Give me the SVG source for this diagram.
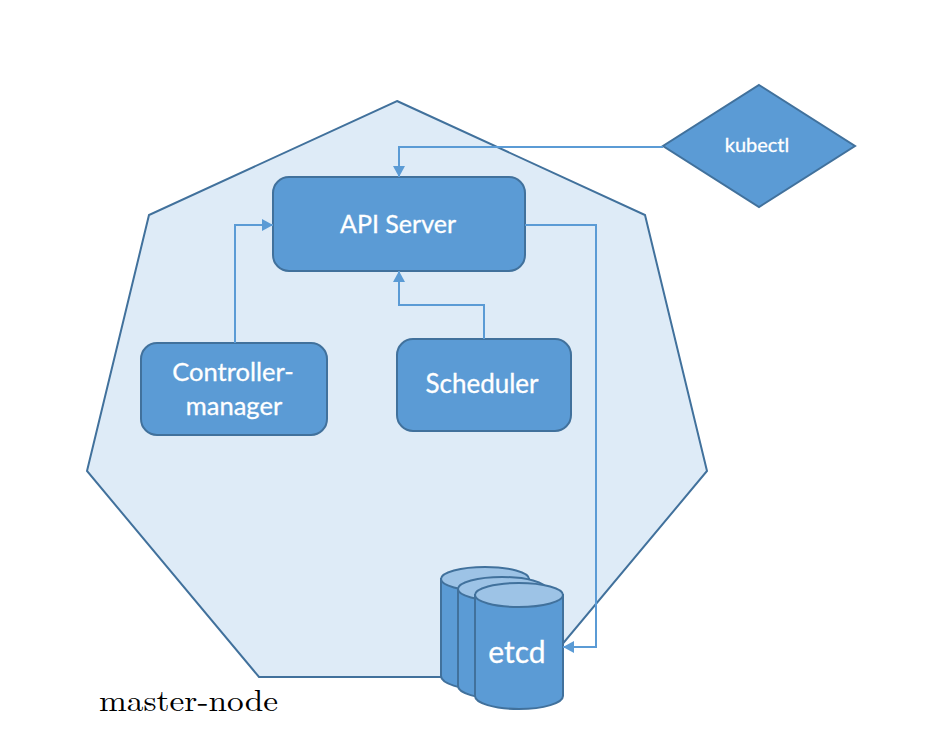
<svg xmlns="http://www.w3.org/2000/svg" width="928" height="756" viewBox="0 0 928 756">
<style>
.s{fill:#5b9bd5;stroke:#41719c;stroke-width:2}
.t{fill:#fff;stroke:#fff;stroke-width:.3;font-family:Lato,"Open Sans",sans-serif;text-anchor:middle}
.top{fill:#9dc3e6;stroke:#41719c;stroke-width:2}
.c{fill:none;stroke:#5b9bd5;stroke-width:2}
</style>
<defs><marker id="a" markerUnits="userSpaceOnUse" markerWidth="12" markerHeight="13" refX="11" refY="6.5" orient="auto"><path d="M0 0.5L11 6.5L0 12.5Z" fill="#5b9bd5"/></marker></defs>
<rect width="928" height="756" fill="#fff"/>
<g id="master-node">
<polygon points="397,101 645,215 707,471 535,677 259,677 87,471 149,215" fill="#deebf7" stroke="#41719c" stroke-width="2"/>
<text x="99" y="711" font-family="'Latin Modern Roman','Liberation Serif',serif" font-size="30" fill="#000" textLength="179" lengthAdjust="spacingAndGlyphs">master-node</text>
</g>
<g id="etcd">
<path class="s" d="M441 579V676C441 683 460 690 485 690C510 690 529 683 529 676V579Z"/>
<ellipse class="top" cx="485" cy="579" rx="44" ry="12"/>
<path class="s" d="M458 589V686C458 693 477 699 502 699C527 699 546 693 546 686V589Z"/>
<ellipse class="top" cx="502" cy="589" rx="44" ry="12"/>
<path class="s" d="M475 595V696C475 703 494 709 519 709C544 709 563 703 563 696V595Z"/>
<ellipse class="top" cx="519" cy="595" rx="44" ry="12"/>
<text class="t" x="517" y="663" font-size="30">etcd</text>
</g>
<g id="api-server">
<rect class="s" x="273" y="177" width="252" height="94" rx="16"/>
<text class="t" x="398" y="233" font-size="25">API Server</text>
</g>
<g id="controller-manager">
<rect class="s" x="141" y="343" width="186" height="92" rx="16"/>
<text class="t" x="233" y="381" font-size="25.5">Controller-</text>
<text class="t" x="234" y="415" font-size="25.5">manager</text>
</g>
<g id="scheduler">
<rect class="s" x="397" y="339" width="174" height="92" rx="16"/>
<text class="t" x="482" y="393" font-size="26">Scheduler</text>
</g>
<g id="kubectl">
<polygon class="s" points="759,85 855,146 759,207 663,146"/>
<text class="t" x="757" y="152" font-size="20">kubectl</text>
</g>
<g id="connectors">
<path class="c" d="M663 147H399V177" marker-end="url(#a)"/>
<path class="c" d="M235 343V225H273" marker-end="url(#a)"/>
<path class="c" d="M484 339V305H399V271" marker-end="url(#a)"/>
<path class="c" d="M525 225H596V647H563" marker-end="url(#a)"/>
</g>
</svg>
